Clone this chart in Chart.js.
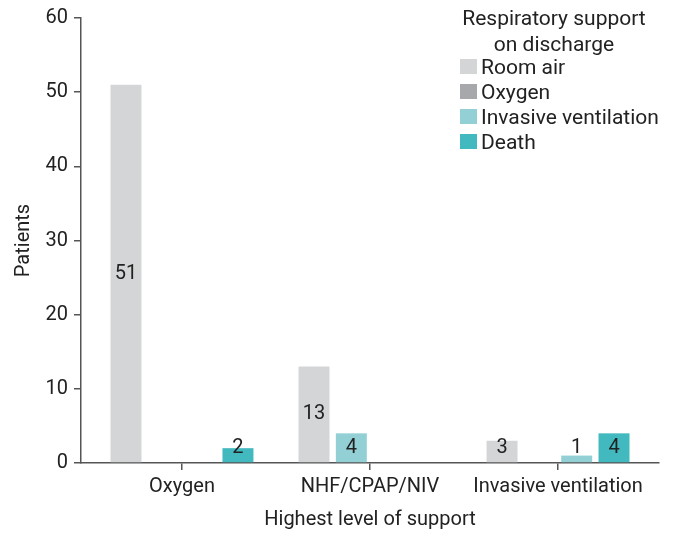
<!DOCTYPE html>
<html>
<head>
<meta charset="utf-8">
<script src="https://cdn.jsdelivr.net/npm/chart.js@4/dist/chart.umd.min.js"></script>
<style>
  body { margin: 0; background: #fff; }
  #wrap { position: relative; width: 675px; height: 534px; font-family: Roboto, sans-serif; color: #222; }
  #legend { position: absolute; left: 460px; top: 5px; font-size: 21px; }
  #legend .ttl { text-align: center; line-height: 26px; width: 188px; margin-bottom: -3px; }
  #legend .item { display: flex; align-items: center; height: 25px; }
  #legend .box { width: 17px; height: 15px; margin-right: 4px; }
</style>
</head>
<body>
<div id="wrap">
  <canvas id="chart" width="675" height="534"></canvas>
  <div id="legend"></div>
</div>
<script>
const categories = ['Oxygen', 'NHF/CPAP/NIV', 'Invasive ventilation'];
const seriesNames = ['Room air', 'Oxygen', 'Invasive ventilation', 'Death'];
const roomAir = [51, 13, 3];
const oxygen = [0, 0, 0];
const invasive = [0, 4, 1];
const death = [2, 0, 4];
const yTicks = [0, 10, 20, 30, 40, 50, 60];
const colors = ['#d4d5d7', '#a7a8ab', '#93d0d5', '#41b9bf'];

const values = [roomAir, oxygen, invasive, death];
const textColor = '#222';
const axisColor = '#555';
const fontSize = 20;

// in the NHF group the invasive bar sits in the (empty) oxygen slot, as in the original
const slotMoves = [{ dataset: 2, category: 1, toDataset: 1 }];

const moveBars = {
    id: 'moveBars',
    afterDatasetsUpdate(chart) {
        slotMoves.forEach(m => {
            const bar = chart.getDatasetMeta(m.dataset).data[m.category];
            const target = chart.getDatasetMeta(m.toDataset).data[m.category];
            if (bar && target) bar.x = target.x;
        });
    }
};

const barLabels = {
    id: 'barLabels',
    afterDatasetsDraw(chart) {
        const ctx = chart.ctx;
        ctx.save();
        ctx.font = fontSize + 'px Roboto';
        ctx.fillStyle = textColor;
        ctx.textAlign = 'center';
        ctx.textBaseline = 'middle';
        chart.data.datasets.forEach((ds, i) => {
            chart.getDatasetMeta(i).data.forEach((bar, j) => {
                const v = values[i][j];
                if (!v) return;
                const y = Math.min((bar.y + bar.base) / 2, bar.base - 14);
                ctx.fillText(String(v), bar.x, y);
            });
        });
        ctx.restore();
    }
};

new Chart(document.getElementById('chart'), {
    type: 'bar',
    data: {
        datasets: seriesNames.map((name, i) => ({
            label: name,
            data: values[i].map((v, j) => ({ x: j, y: v })),
            backgroundColor: colors[i],
            categoryPercentage: 0.794,
            barPercentage: 0.83
        }))
    },
    options: {
        responsive: false,
        animation: false,
        layout: { padding: { left: 0, right: 16, top: 16, bottom: 0 } },
        plugins: {
            legend: { display: false },
            tooltip: { enabled: false }
        },
        scales: {
            x: {
                type: 'linear',
                bounds: 'data',
                offset: false,
                min: -0.537,
                max: 2.537,
                afterBuildTicks: (s) => { s.ticks = categories.map((c, i) => ({ value: i })); },
                afterFit: (s) => { s.height = 71; },
                border: { color: axisColor, width: 1.5 },
                grid: { offset: false, drawOnChartArea: false, drawTicks: true, tickLength: 7, color: axisColor, lineWidth: 1.5 },
                ticks: {
                    autoSkip: false,
                    maxRotation: 0,
                    padding: 5,
                    color: textColor,
                    font: { family: 'Roboto', size: fontSize },
                    callback: (v) => categories[v]
                },
                title: {
                    display: true,
                    text: 'Highest level of support',
                    color: textColor,
                    font: { family: 'Roboto', size: fontSize },
                    padding: { top: 0, bottom: 2 }
                }
            },
            y: {
                min: 0,
                max: 60,
                afterBuildTicks: (s) => { s.ticks = yTicks.map(v => ({ value: v })); },
                afterFit: (s) => { s.width = 81; },
                border: { color: axisColor, width: 1.5 },
                grid: { drawOnChartArea: false, drawTicks: true, tickLength: 7, color: axisColor, lineWidth: 1.5 },
                ticks: {
                    padding: 6,
                    color: textColor,
                    font: { family: 'Roboto', size: fontSize }
                },
                title: {
                    display: true,
                    text: 'Patients',
                    color: textColor,
                    font: { family: 'Roboto', size: fontSize },
                    padding: { top: 12, bottom: 0 }
                }
            }
        }
    },
    plugins: [moveBars, barLabels]
});

// legend built from the series arrays
const legend = document.getElementById('legend');
legend.innerHTML = '<div class="ttl">Respiratory support<br>on discharge</div>' +
    seriesNames.map((n, i) => '<div class="item"><span class="box" style="background:' + colors[i] + '"></span>' + n + '</div>').join('');
</script>
</body>
</html>
